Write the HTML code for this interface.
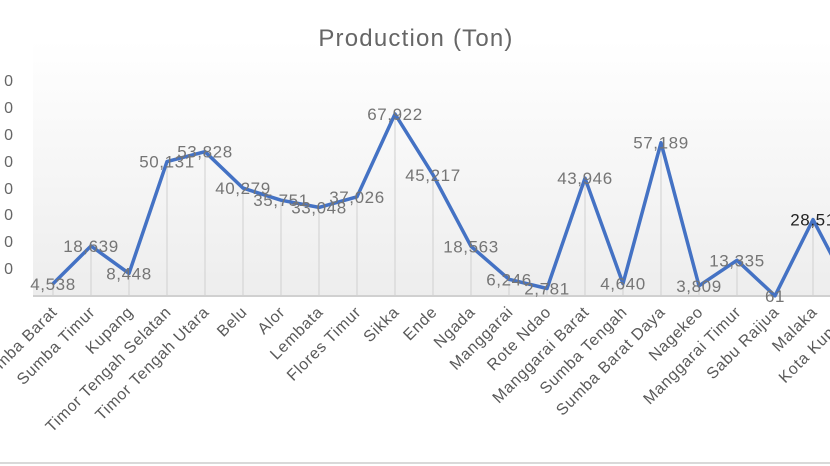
<!DOCTYPE html>
<html><head><meta charset="utf-8"><style>
html,body{margin:0;padding:0;background:#fff;}
svg{display:block;font-family:"Liberation Sans",sans-serif;}
</style></head><body>
<svg width="830" height="466" viewBox="0 0 830 466">
<defs><linearGradient id="g" x1="0" y1="0" x2="0" y2="1">
<stop offset="0" stop-color="#ffffff"/><stop offset="1" stop-color="#ededed"/></linearGradient></defs>
<rect x="0" y="0" width="830" height="466" fill="#fff"/>
<rect x="33" y="40" width="800" height="256" fill="url(#g)"/>
<text x="416" y="46" text-anchor="middle" font-size="24" letter-spacing="1.2" fill="#666">Production  (Ton)</text>
<g font-size="16" fill="#666" text-anchor="end">
<text x="13" y="86">0</text><text x="13" y="113">0</text><text x="13" y="140">0</text><text x="13" y="167">0</text>
<text x="13" y="194">0</text><text x="13" y="220">0</text><text x="13" y="247">0</text><text x="13" y="274">0</text>
</g>
<g id="drops" stroke="#d0d0d0" stroke-width="1"></g>
<line x1="33" y1="296" x2="830" y2="296" stroke="#d0d0d0" stroke-width="2"/>
<polyline id="ln" fill="none" stroke="#4472c4" stroke-width="3.5" stroke-linejoin="round"/>
<g id="lbl" font-size="17" letter-spacing="0.6" fill="#757575" text-anchor="middle"></g>
<g id="cat" font-size="16" letter-spacing="0.7" fill="#595959" text-anchor="end"></g>
<line x1="0" y1="463" x2="830" y2="463" stroke="#d9d9d9" stroke-width="2"/>
</svg>
<script>
var d=[["Sumba Barat",4538],["Sumba Timur",18639],["Kupang",8448],["Timor Tengah Selatan",50131],["Timor Tengah Utara",53828],["Belu",40279],["Alor",35751],["Lembata",33048],["Flores Timur",37026],["Sikka",67922],["Ende",45217],["Ngada",18563],["Manggarai",6246],["Rote Ndao",2781],["Manggarai Barat",43946],["Sumba Tengah",4640],["Sumba Barat Daya",57189],["Nagekeo",3809],["Manggarai Timur",13335],["Sabu Raijua",61],["Malaka",28510],["Kota Kupang",1500]];
var ns="http://www.w3.org/2000/svg",pts=[];
function el(t,a,p,tx){var e=document.createElementNS(ns,t);for(var k in a)e.setAttribute(k,a[k]);if(tx)e.textContent=tx;document.getElementById(p).appendChild(e);}
d.forEach(function(r,i){var x=53+i*38,y=296-r[1]*0.00268;pts.push(x+","+y.toFixed(1));
el("line",{x1:x,y1:y,x2:x,y2:296},"drops");
var lab=r[0]=="Malaka"?"28,51":r[1].toLocaleString("en-US");
if(r[0]!="Kota Kupang")el("text",{x:x,y:y+6,fill:r[0]=="Malaka"?"#222":"#757575"},"lbl",lab);
el("text",{x:x+5,y:313,transform:"rotate(-45 "+(x+5)+" 313)"},"cat",r[0]);});
document.getElementById("ln").setAttribute("points",pts.join(" "));
</script>
</body></html>
